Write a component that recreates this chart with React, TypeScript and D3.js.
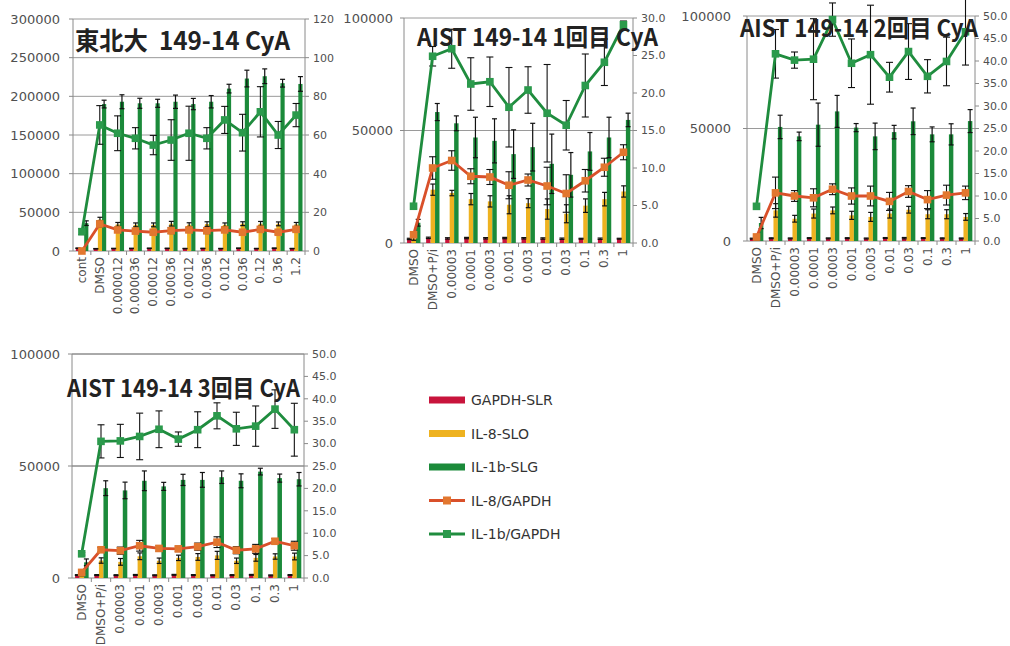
import { useEffect, useRef } from 'react';
import * as d3 from 'd3';

// categories
const cats1 = ['cont', 'DMSO', '0.000012', '0.000036', '0.00012', '0.00036', '0.0012', '0.0036', '0.012', '0.036', '0.12', '0.36', '1.2'];
const catsAist = ['DMSO', 'DMSO+P/i', '0.00003', '0.0001', '0.0003', '0.001', '0.003', '0.01', '0.03', '0.1', '0.3', '1'];

const seriesNames = ['GAPDH-SLR', 'IL-8-SLO', 'IL-1b-SLG', 'IL-8/GAPDH', 'IL-1b/GAPDH'];

// 東北大
const gapdh1 = [3600, 2900, 3200, 3300, 3500, 3400, 3100, 3300, 3100, 3600, 3100, 3600, 3100];
const gapdh1Err = [300, 300, 300, 300, 300, 300, 300, 300, 300, 300, 300, 400, 300];
const il8Slo1 = [500, 40600, 34400, 33800, 33800, 35300, 34000, 34800, 33800, 35300, 35200, 35100, 34400];
const il8Slo1Err = [200, 3000, 2500, 2500, 2500, 3000, 2500, 3000, 2500, 2500, 3000, 2500, 2500];
const il1bSlg1 = [36000, 190000, 193000, 191000, 191000, 193000, 190000, 193000, 210000, 223000, 226000, 217000, 216000];
const il1bSlg1Err = [3000, 5000, 9000, 6500, 5200, 8600, 7300, 8000, 5600, 10800, 9500, 5000, 9500];
const il8Ratio1 = [0, 14, 10.9, 10.3, 9.7, 10.5, 10.9, 10.5, 10.9, 9.7, 11.2, 9.7, 11.2];
const il8Ratio1Err = [0.2, 1.5, 1.2, 1.2, 1.2, 1.5, 1.2, 1.5, 1.0, 1.2, 1.2, 1.0, 1.2];
const il1bRatio1 = [10, 65.2, 60.9, 58.3, 54.8, 57.4, 60.9, 58.3, 67.8, 61.2, 72, 60, 70.3];
const il1bRatio1Err = [1.5, 10, 9, 5.5, 5, 10.5, 14, 5.5, 7, 9.5, 13, 7, 6];

// AIST 1回目
const gapdh2 = [1800, 2300, 2050, 2200, 2100, 2200, 2100, 2000, 1900, 1900, 1900, 1900];
const gapdh2Err = [300, 300, 300, 300, 300, 300, 300, 300, 300, 200, 300, 200];
const il8Slo2 = [2000, 23700, 22200, 19500, 18500, 17000, 17700, 15100, 13000, 16600, 19500, 22900];
const il8Slo2Err = [800, 2500, 1200, 2500, 2500, 4000, 2000, 4500, 4000, 3000, 3000, 2500];
const il1bSlg2 = [9000, 58200, 53200, 46900, 45400, 39500, 42600, 35200, 30300, 40700, 46900, 54700];
const il1bSlg2Err = [1500, 3800, 3300, 9000, 9800, 10800, 10600, 13200, 9900, 8400, 9000, 3000];
const il8Ratio2 = [1.1, 10, 11, 8.9, 8.8, 7.7, 8.4, 7.6, 6.6, 8.3, 10.1, 12.1];
const il8Ratio2Err = [0.3, 1.5, 1.3, 1.0, 1.0, 1.8, 0.8, 2.5, 2.5, 1.5, 1.2, 1.0];
const il1bRatio2 = [4.9, 24.9, 25.9, 21.2, 21.5, 18.1, 20.4, 17.3, 15.7, 21.0, 24.1, 29.1];
const il1bRatio2Err = [0.3, 1.3, 2.6, 3.5, 3.3, 5.3, 3.1, 6.5, 3.3, 4.2, 3.1, 0.5];

// AIST 2回目
const gapdh3 = [1050, 1220, 1160, 1280, 1180, 1270, 1120, 1330, 1260, 1290, 1190, 1150];
const gapdh3Err = [200, 200, 200, 200, 200, 200, 200, 200, 300, 200, 200, 200];
const il8Slo3 = [1000, 13600, 9900, 12200, 13600, 11400, 10700, 12200, 13900, 11900, 11900, 10700];
const il8Slo3Err = [500, 3000, 1500, 2000, 1500, 1800, 2000, 2000, 1500, 2000, 2000, 1500];
const il1bSlg3 = [8000, 50700, 46500, 51700, 57600, 50400, 46500, 48400, 53200, 47400, 47400, 53300];
const il1bSlg3Err = [2500, 5200, 1900, 9600, 7100, 1800, 5900, 3000, 5900, 3300, 4700, 5100];
const il8Ratio3 = [0.9, 10.7, 10.0, 9.6, 11.5, 10.0, 10.0, 8.8, 11.0, 9.2, 10.2, 10.7];
const il8Ratio3Err = [0.5, 3.5, 1.2, 2.0, 1.2, 1.8, 2.2, 2.0, 1.3, 2.0, 2.2, 1.5];
const il1bRatio3 = [7.7, 41.6, 40.2, 40.4, 49.2, 39.5, 41.4, 36.4, 42.1, 36.6, 39.9, 46.5];
const il1bRatio3Err = [0.5, 5.4, 1.8, 9, 3.7, 5.4, 11, 3.3, 6.2, 3.7, 5.4, 7.4];

// AIST 3回目
const gapdh4 = [1300, 1310, 1270, 1370, 1230, 1410, 1320, 1240, 1300, 1400, 1180, 1330];
const gapdh4Err = [200, 200, 200, 200, 200, 200, 200, 200, 200, 200, 200, 200];
const il8Slo4 = [1600, 7800, 7200, 9700, 7700, 9000, 9400, 10100, 7700, 9000, 9600, 9600];
const il8Slo4Err = [600, 1200, 1500, 1500, 1200, 1200, 1500, 1800, 1200, 1500, 1200, 1500];
const il1bSlg4 = [7000, 40100, 39100, 43400, 40900, 43800, 43800, 45000, 43400, 47500, 44600, 44100];
const il1bSlg4Err = [1500, 3300, 3700, 4400, 1800, 2500, 3300, 2800, 3100, 1500, 1800, 3000];
const il8Ratio4 = [1.25, 6.3, 6.1, 7.2, 6.6, 6.5, 7.0, 8.0, 6.2, 6.5, 8.2, 7.2];
const il8Ratio4Err = [0.3, 0.5, 0.8, 1.2, 0.6, 0.6, 0.8, 1.2, 0.8, 1.0, 0.6, 1.0];
const il1bRatio4 = [5.4, 30.5, 30.6, 31.6, 33.2, 31.0, 33.1, 36.2, 33.3, 33.9, 37.7, 33.1];
const il1bRatio4Err = [0.3, 3.7, 3.7, 5.2, 4.1, 1.6, 4.0, 2.9, 3.7, 4.5, 4.3, 5.9];

const COLORS = {
  gapdh: '#c8143c',
  il8: '#eeb220',
  il1b: '#1b8a3a',
  il8Line: '#d9502a',
  il8Marker: '#e2772f',
  il1bLine: '#1f8c3e',
  il1bMarker: '#2b9a4c',
};

const FONT = '"DejaVu Sans", sans-serif';
const TITLE_FONT = '"Noto Sans CJK JP", sans-serif';

interface Panel {
  title: string;
  titleX: number;
  titleY: number;
  titleW: number;
  titleSize: number;
  cats: string[];
  bars: { v: number[]; e: number[]; color: string }[];
  lines: { v: number[]; e: number[]; line: string; marker: string }[];
  left: number;
  right: number;
  top: number;
  bottom: number;
  yMax: number;
  yStep: number;
  y2Max: number;
  y2Step: number;
  y2Fmt: string;
  labelGap: number;
  gridColor: string;
}

const panels: Panel[] = [
  {
    title: '東北大  149-14 CyA', titleX: 75, titleY: 50, titleW: 215, titleSize: 25,
    cats: cats1,
    bars: [
      { v: gapdh1, e: gapdh1Err, color: COLORS.gapdh },
      { v: il8Slo1, e: il8Slo1Err, color: COLORS.il8 },
      { v: il1bSlg1, e: il1bSlg1Err, color: COLORS.il1b },
    ],
    lines: [
      { v: il8Ratio1, e: il8Ratio1Err, line: COLORS.il8Line, marker: COLORS.il8Marker },
      { v: il1bRatio1, e: il1bRatio1Err, line: COLORS.il1bLine, marker: COLORS.il1bMarker },
    ],
    left: 73, right: 305, top: 19, bottom: 251,
    yMax: 300000, yStep: 50000, y2Max: 120, y2Step: 20, y2Fmt: 'd', labelGap: 13, gridColor: '#9a9a9a',
  },
  {
    title: 'AIST 149-14 1回目 CyA', titleX: 417, titleY: 46, titleW: 241, titleSize: 24,
    cats: catsAist,
    bars: [
      { v: gapdh2, e: gapdh2Err, color: COLORS.gapdh },
      { v: il8Slo2, e: il8Slo2Err, color: COLORS.il8 },
      { v: il1bSlg2, e: il1bSlg2Err, color: COLORS.il1b },
    ],
    lines: [
      { v: il8Ratio2, e: il8Ratio2Err, line: COLORS.il8Line, marker: COLORS.il8Marker },
      { v: il1bRatio2, e: il1bRatio2Err, line: COLORS.il1bLine, marker: COLORS.il1bMarker },
    ],
    left: 404, right: 633, top: 18, bottom: 243,
    yMax: 100000, yStep: 50000, y2Max: 30, y2Step: 5, y2Fmt: '.1f', labelGap: 11, gridColor: '#9a9a9a',
  },
  {
    title: 'AIST 149-14 2回目 CyA', titleX: 740, titleY: 37, titleW: 238, titleSize: 24,
    cats: catsAist,
    bars: [
      { v: gapdh3, e: gapdh3Err, color: COLORS.gapdh },
      { v: il8Slo3, e: il8Slo3Err, color: COLORS.il8 },
      { v: il1bSlg3, e: il1bSlg3Err, color: COLORS.il1b },
    ],
    lines: [
      { v: il8Ratio3, e: il8Ratio3Err, line: COLORS.il8Line, marker: COLORS.il8Marker },
      { v: il1bRatio3, e: il1bRatio3Err, line: COLORS.il1bLine, marker: COLORS.il1bMarker },
    ],
    left: 747, right: 975, top: 16, bottom: 241,
    yMax: 100000, yStep: 50000, y2Max: 50, y2Step: 5, y2Fmt: '.1f', labelGap: 16, gridColor: '#9a9a9a',
  },
  {
    title: 'AIST 149-14 3回目 CyA', titleX: 67, titleY: 397, titleW: 233, titleSize: 24,
    cats: catsAist,
    bars: [
      { v: gapdh4, e: gapdh4Err, color: COLORS.gapdh },
      { v: il8Slo4, e: il8Slo4Err, color: COLORS.il8 },
      { v: il1bSlg4, e: il1bSlg4Err, color: COLORS.il1b },
    ],
    lines: [
      { v: il8Ratio4, e: il8Ratio4Err, line: COLORS.il8Line, marker: COLORS.il8Marker },
      { v: il1bRatio4, e: il1bRatio4Err, line: COLORS.il1bLine, marker: COLORS.il1bMarker },
    ],
    left: 72, right: 304, top: 354, bottom: 578,
    yMax: 100000, yStep: 50000, y2Max: 50, y2Step: 5, y2Fmt: '.1f', labelGap: 12, gridColor: '#555',
  },
];

const drawPanel = (svg: d3.Selection<SVGSVGElement, unknown, null, undefined>, p: Panel) => {
  const g = svg.append('g');

  const x = d3.scaleBand<string>().domain(p.cats).range([p.left, p.right]).paddingInner(0).paddingOuter(0);
  const sub = d3.scaleBand<number>().domain([0, 1, 2]).range([x.bandwidth() * 0.16, x.bandwidth() * 0.86]);
  const y = d3.scaleLinear().domain([0, p.yMax]).range([p.bottom, p.top]);
  const y2 = d3.scaleLinear().domain([0, p.y2Max]).range([p.bottom, p.top]);

  const yTicks = d3.range(0, p.yMax + 1, p.yStep);
  const y2Ticks = d3.range(0, p.y2Max + 0.001, p.y2Step);

  // gridlines
  g.selectAll('.grid')
    .data(yTicks.slice(1))
    .enter()
    .append('line')
    .attr('x1', p.left)
    .attr('x2', p.right)
    .attr('y1', d => y(d))
    .attr('y2', d => y(d))
    .attr('stroke', p.gridColor)
    .attr('stroke-width', 1);

  // axis lines
  const axisColor = '#8a8a8a';
  g.append('line').attr('x1', p.left).attr('x2', p.left).attr('y1', p.top).attr('y2', p.bottom).attr('stroke', axisColor);
  g.append('line').attr('x1', p.right).attr('x2', p.right).attr('y1', p.top).attr('y2', p.bottom).attr('stroke', axisColor);
  g.append('line').attr('x1', p.left).attr('x2', p.right).attr('y1', p.bottom).attr('y2', p.bottom).attr('stroke', axisColor);

  // left ticks + labels
  yTicks.forEach(t => {
    g.append('line').attr('x1', p.left - 4).attr('x2', p.left).attr('y1', y(t)).attr('y2', y(t)).attr('stroke', axisColor);
    g.append('text')
      .attr('x', p.left - p.labelGap)
      .attr('y', y(t))
      .attr('dy', '0.35em')
      .attr('text-anchor', 'end')
      .style('font-family', FONT)
      .style('font-size', '13px')
      .attr('fill', '#505050')
      .text(String(t));
  });

  // right ticks + labels
  const fmt = d3.format(p.y2Fmt);
  y2Ticks.forEach(t => {
    g.append('line').attr('x1', p.right).attr('x2', p.right + 4).attr('y1', y2(t)).attr('y2', y2(t)).attr('stroke', axisColor);
    g.append('text')
      .attr('x', p.right + 8)
      .attr('y', y2(t))
      .attr('dy', '0.35em')
      .style('font-family', FONT)
      .style('font-size', '11px')
      .attr('fill', '#505050')
      .text(fmt(t));
  });

  // category ticks + labels
  p.cats.forEach((c, i) => {
    const x0 = x(c) as number;
    if (i > 0) {
      g.append('line').attr('x1', x0).attr('x2', x0).attr('y1', p.bottom).attr('y2', p.bottom + 4).attr('stroke', axisColor);
    }
    const cx = x0 + x.bandwidth() / 2;
    g.append('text')
      .attr('transform', `translate(${cx},${p.bottom + 6}) rotate(-90)`)
      .attr('text-anchor', 'end')
      .attr('dominant-baseline', 'central')
      .style('font-family', FONT)
      .style('font-size', '12px')
      .attr('fill', '#505050')
      .text(c);
  });
  g.append('line').attr('x1', p.right).attr('x2', p.right).attr('y1', p.bottom).attr('y2', p.bottom + 4).attr('stroke', axisColor);

  // bars
  p.bars.forEach((s, si) => {
    g.selectAll(`.bar${si}`)
      .data(s.v)
      .enter()
      .append('rect')
      .attr('x', (d, i) => (x(p.cats[i]) as number) + (sub(si) as number))
      .attr('width', sub.bandwidth())
      .attr('y', d => y(d))
      .attr('height', d => p.bottom - y(d))
      .attr('fill', s.color);
  });

  // bar error bars
  p.bars.forEach((s, si) => {
    s.v.forEach((d, i) => {
      const cx = (x(p.cats[i]) as number) + (sub(si) as number) + sub.bandwidth() / 2;
      const lo = y(Math.max(0, d - s.e[i]));
      const hi = y(d + s.e[i]);
      const eg = g.append('g').attr('stroke', '#111').attr('stroke-width', 1.2);
      eg.append('line').attr('x1', cx).attr('x2', cx).attr('y1', lo).attr('y2', hi);
      eg.append('line').attr('x1', cx - 2.5).attr('x2', cx + 2.5).attr('y1', lo).attr('y2', lo);
      eg.append('line').attr('x1', cx - 2.5).attr('x2', cx + 2.5).attr('y1', hi).attr('y2', hi);
    });
  });

  // ratio lines with markers and error bars
  p.lines.forEach(s => {
    const pts = s.v.map((d, i) => ({ cat: p.cats[i], v: d, e: s.e[i] }));
    const cxOf = (c: string) => (x(c) as number) + x.bandwidth() / 2;

    pts.forEach(pt => {
      const cx = cxOf(pt.cat);
      const lo = y2(Math.max(0, pt.v - pt.e));
      const hi = y2(pt.v + pt.e);
      const eg = g.append('g').attr('stroke', '#111').attr('stroke-width', 1.1);
      eg.append('line').attr('x1', cx).attr('x2', cx).attr('y1', lo).attr('y2', hi);
      eg.append('line').attr('x1', cx - 3.5).attr('x2', cx + 3.5).attr('y1', lo).attr('y2', lo);
      eg.append('line').attr('x1', cx - 3.5).attr('x2', cx + 3.5).attr('y1', hi).attr('y2', hi);
    });

    const line = d3.line<{ cat: string; v: number }>()
      .x(d => cxOf(d.cat))
      .y(d => y2(d.v));

    g.append('path')
      .datum(pts)
      .attr('fill', 'none')
      .attr('stroke', s.line)
      .attr('stroke-width', 2.8)
      .attr('d', line);

    g.selectAll(null)
      .data(pts)
      .enter()
      .append('rect')
      .attr('x', d => cxOf(d.cat) - 3.8)
      .attr('y', d => y2(d.v) - 3.8)
      .attr('width', 7.6)
      .attr('height', 7.6)
      .attr('fill', s.marker);
  });

  // title
  g.append('text')
    .attr('x', p.titleX)
    .attr('y', p.titleY)
    .attr('textLength', p.titleW)
    .attr('lengthAdjust', 'spacingAndGlyphs')
    .style('font-family', TITLE_FONT)
    .style('font-weight', 'bold')
    .style('font-size', `${p.titleSize}px`)
    .style('white-space', 'pre')
    .attr('fill', '#222')
    .text(p.title);
};

const App = () => {
  const ref = useRef<SVGSVGElement>(null);

  useEffect(() => {
    document.body.style.margin = '0';
    if (!ref.current) return;
    const svg = d3.select(ref.current);
    svg.selectAll('*').remove();

    svg.append('rect').attr('width', 1010).attr('height', 646).attr('fill', '#fff');

    panels.forEach(p => drawPanel(svg, p));

    // legend
    const legend = svg.append('g');
    const lx = 429;
    const ly0 = 400;
    const step = 33.5;
    const swatches = [COLORS.gapdh, COLORS.il8, COLORS.il1b];
    seriesNames.forEach((name, i) => {
      const ly = ly0 + i * step;
      if (i < 3) {
        legend.append('rect')
          .attr('x', lx)
          .attr('y', ly - 3.5)
          .attr('width', 36)
          .attr('height', 7)
          .attr('fill', swatches[i]);
      } else {
        const lineColor = i === 3 ? COLORS.il8Line : COLORS.il1bLine;
        const markColor = i === 3 ? COLORS.il8Marker : COLORS.il1bMarker;
        legend.append('line')
          .attr('x1', lx)
          .attr('x2', lx + 36)
          .attr('y1', ly)
          .attr('y2', ly)
          .attr('stroke', lineColor)
          .attr('stroke-width', 2.8);
        legend.append('rect')
          .attr('x', lx + 18 - 4)
          .attr('y', ly - 4)
          .attr('width', 8)
          .attr('height', 8)
          .attr('fill', markColor);
      }
      legend.append('text')
        .attr('x', lx + 42)
        .attr('y', ly)
        .attr('dy', '0.36em')
        .style('font-family', FONT)
        .style('font-size', '14px')
        .attr('fill', '#333')
        .text(name);
    });
  }, []);

  return (
    <div style={{ width: 1010, height: 646 }}>
      <svg ref={ref} width={1010} height={646} style={{ display: 'block' }} />
    </div>
  );
};

export default App;
